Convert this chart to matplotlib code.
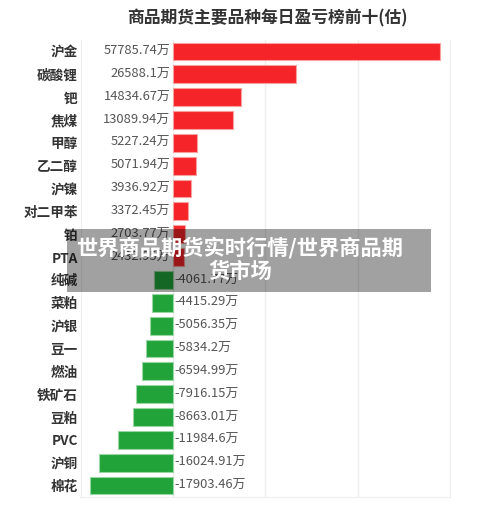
import matplotlib
matplotlib.use("Agg")
import matplotlib.pyplot as plt
from matplotlib.patches import Rectangle
from matplotlib.transforms import offset_copy

plt.rcParams['font.family'] = ['Noto Sans CJK SC', 'DejaVu Sans']

categories = ["沪金", "碳酸锂", "钯", "焦煤", "甲醇", "乙二醇", "沪镍", "对二甲苯", "铂", "PTA",
              "纯碱", "菜粕", "沪银", "豆一", "燃油", "铁矿石", "豆粕", "PVC", "沪铜", "棉花"]
values = [57785.74, 26588.1, 14834.67, 13089.94, 5227.24, 5071.94, 3936.92, 3372.45, 2703.77, 2432.95,
          -4061.77, -4415.29, -5056.35, -5834.2, -6594.99, -7916.15, -8663.01, -11984.6, -16024.91, -17903.46]
title = "商品期货主要品种每日盈亏榜前十(估)"
watermark = "世界商品期货实时行情/世界商品期\n货市场"

W, H = 500, 521
fig = plt.figure(figsize=(W / 100, H / 100), dpi=100)
ax = fig.add_axes([80.5 / W, 1 - 497 / H, (450 - 80.5) / W, (497 - 40) / H])

red, red_edge = "#F52428", "#F8A0A0"
green, green_edge = "#21A33A", "#9AD6A4"
pos = list(range(len(categories)))
colors = [red if v >= 0 else green for v in values]
edges = [red_edge if v >= 0 else green_edge for v in values]
ax.barh(pos, values, height=0.78, color=colors, edgecolor=edges, linewidth=0.8, zorder=3)

ax.set_xlim(-20000, 60000)
ax.set_ylim(len(categories) - 0.5, -0.5)
ax.set_xticks([-20000, 0, 20000, 40000, 60000])
ax.xaxis.grid(True, color="#EEEEEE", linewidth=1, zorder=0)
ax.tick_params(axis="x", length=0, labelbottom=False)
ax.tick_params(axis="y", length=0, pad=2)
ax.set_yticks(pos)
ax.set_yticklabels(categories, fontsize=9.8, fontweight="bold", color="#333333")
for s in ["left", "right", "bottom"]:
    ax.spines[s].set_color("#EEEEEE")
ax.spines["top"].set_visible(False)

def fmt(v):
    s = ("%.2f" % v).rstrip("0").rstrip(".")
    return s + "万"

left_tr = offset_copy(ax.transData, fig=fig, x=-2.5, y=0, units="dots")
right_tr = offset_copy(ax.transData, fig=fig, x=2, y=0, units="dots")
for i, v in enumerate(values):
    if v >= 0:
        ax.text(0, i, fmt(v), transform=left_tr, ha="right", va="center",
                fontsize=9.3, color="#555555", zorder=4)
    else:
        ax.text(0, i, fmt(v), transform=right_tr, ha="left", va="center",
                fontsize=9.3, color="#555555", zorder=4)

fig.text(267 / W, 1 - 18 / H, title, ha="center", va="center", fontsize=12.1,
         fontweight="bold", color="#333333")

# watermark overlay
fig.patches.append(Rectangle((67 / W, 1 - 291.5 / H), (431 - 67) / W, (291.5 - 229.3) / H,
                             transform=fig.transFigure, facecolor="black", alpha=0.37,
                             edgecolor="none", zorder=10))
fig.text(240 / W, 1 - 259.5 / H, watermark, ha="center", va="center", fontsize=15.3,
         fontweight="bold", color="white", linespacing=1.15, zorder=11)

fig.savefig("out.png", dpi=100, facecolor="white")
